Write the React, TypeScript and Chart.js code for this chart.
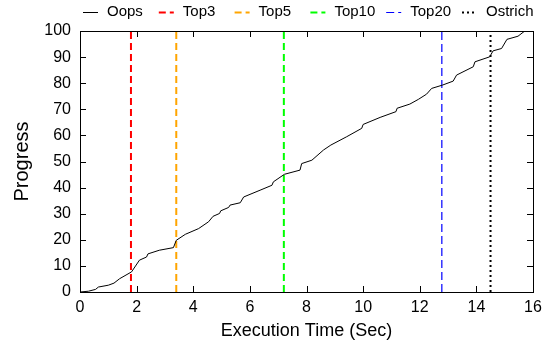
import React, { useEffect, useRef } from "react";
import { Chart, registerables } from "chart.js";

Chart.register(...registerables);

// Oops progress curve
const oopsTime = [0, 0.3, 0.55, 0.65, 1.0, 1.2, 1.4, 1.82, 2.1, 2.35, 2.4, 2.8, 3.3, 3.4, 3.72, 4.19, 4.54, 4.7, 4.93, 4.97, 5.25, 5.3, 5.66, 5.78, 6.36, 6.78, 6.83, 7.22, 7.77, 7.83, 8.19, 8.6, 8.86, 9.42, 9.95, 10.0, 10.6, 11.16, 11.2, 11.65, 11.95, 12.24, 12.42, 12.81, 13.18, 13.3, 13.89, 13.95, 14.47, 14.59, 14.89, 15.08, 15.47, 15.71];
const oopsProgress = [0, 0.3, 1.0, 1.9, 2.6, 3.4, 5.1, 7.7, 12.2, 13.4, 14.6, 16.0, 17.0, 19.8, 22.1, 24.3, 26.9, 29.0, 30.1, 31.1, 32.4, 33.3, 34.2, 36.4, 39.0, 40.9, 42.2, 45.1, 46.7, 49.2, 50.5, 54.4, 56.3, 59.5, 62.7, 64.2, 66.9, 69.1, 70.4, 72.0, 73.8, 75.8, 78.0, 79.3, 80.8, 83.1, 86.3, 88.2, 90.1, 92.4, 93.3, 96.8, 98.0, 100];

// Vertical completion markers
const markerLabels = ["Top3", "Top5", "Top10", "Top20", "Ostrich"];
const markerTimes = [1.8, 3.4, 7.2, 12.78, 14.5];
const markerColors = ["#ff0000", "#ffa500", "#00ff00", "#0000ff", "#000000"];
const markerDashes = [[7, 4], [7, 4], [7, 4], [8, 4], [2, 3]];
const markerWidths = [2, 2, 2, 1.2, 2];

const progressRange = [0, 100];
const timeRange = [0, 16];

const FONT = "'Liberation Sans', Arial, Helvetica, sans-serif";

export default function App() {
  const ref = useRef<HTMLCanvasElement | null>(null);

  useEffect(() => {
    const canvas = ref.current;
    if (!canvas) return;

    const datasets: any[] = [
      {
        label: "Oops",
        data: oopsTime.map((t, i) => ({ x: t, y: oopsProgress[i] })),
        borderColor: "#000000",
        borderWidth: 1,
        pointRadius: 0,
        borderDash: [],
        tension: 0,
      },
      ...markerLabels.map((lab, i) => ({
        label: lab,
        data: [
          { x: markerTimes[i], y: progressRange[0] },
          { x: markerTimes[i], y: progressRange[1] },
        ],
        borderColor: markerColors[i],
        borderWidth: markerWidths[i],
        borderDash: markerDashes[i],
        pointRadius: 0,
      })),
    ];

    const frame = {
      id: "frame",
      afterDatasetsDraw(chart: any) {
        const { ctx, chartArea: a, scales } = chart;
        ctx.save();
        ctx.strokeStyle = "#000";
        ctx.lineWidth = 1;
        ctx.setLineDash([]);
        ctx.strokeRect(Math.round(a.left) + 0.5, Math.round(a.top) + 0.5, Math.round(a.right - a.left), Math.round(a.bottom - a.top));
        const tl = 6;
        ctx.beginPath();
        scales.x.ticks.forEach((t: any) => {
          const px = Math.round(scales.x.getPixelForValue(t.value)) + 0.5;
          ctx.moveTo(px, a.bottom);
          ctx.lineTo(px, a.bottom - tl);
          ctx.moveTo(px, a.top);
          ctx.lineTo(px, a.top + tl);
        });
        scales.y.ticks.forEach((t: any) => {
          const py = Math.round(scales.y.getPixelForValue(t.value)) + 0.5;
          ctx.moveTo(a.left, py);
          ctx.lineTo(a.left + tl, py);
          ctx.moveTo(a.right, py);
          ctx.lineTo(a.right - tl, py);
        });
        ctx.stroke();
        ctx.restore();
      },
      afterDraw(chart: any) {
        const { ctx } = chart;
        ctx.save();
        ctx.font = `15px ${FONT}`;
        ctx.textBaseline = "middle";
        ctx.fillStyle = "#000";
        const y = 12;
        chart.data.datasets.forEach((ds: any, i: number) => {
          const x0 = 83 + i * 75.8;
          ctx.strokeStyle = ds.borderColor;
          ctx.lineWidth = ds.borderWidth;
          ctx.setLineDash(ds.borderDash || []);
          ctx.beginPath();
          ctx.moveTo(x0, y + 0.5);
          ctx.lineTo(x0 + 15, y + 0.5);
          ctx.stroke();
          ctx.setLineDash([]);
          ctx.fillText(ds.label, x0 + 24, y);
        });
        ctx.restore();
      },
    };

    const chart = new Chart(canvas, {
      type: "line",
      data: { datasets },
      options: {
        animation: false,
        responsive: false,
        devicePixelRatio: 1,
        layout: { padding: { top: 31, right: 23, left: 0, bottom: 0 } },
        plugins: { legend: { display: false }, tooltip: { enabled: false } },
        scales: {
          x: {
            type: "linear",
            min: timeRange[0],
            max: timeRange[1],
            grid: { display: false, drawTicks: false },
            border: { display: false },
            ticks: { stepSize: 2, color: "#000", font: { size: 16, family: FONT }, padding: 6, maxRotation: 0 },
            title: { display: true, text: "Execution Time (Sec)", color: "#000", font: { size: 18, family: FONT }, padding: { top: 0, bottom: 4 } },
            afterFit: (s: any) => { s.height = 54; },
          },
          y: {
            type: "linear",
            min: progressRange[0],
            max: progressRange[1],
            grid: { display: false, drawTicks: false },
            border: { display: false },
            ticks: { stepSize: 10, color: "#000", font: { size: 16, family: FONT }, padding: 9 },
            title: { display: true, text: "Progress", color: "#000", font: { size: 20, family: FONT }, padding: { top: 10, bottom: 0 } },
            afterFit: (s: any) => { s.width = 80; },
          },
        },
      },
      plugins: [frame],
    } as any);

    return () => chart.destroy();
  }, []);

  return (
    <div style={{ position: "absolute", left: 0, top: 0, width: 556, height: 346, background: "#fff" }}>
      <canvas ref={ref} width={556} height={346} />
    </div>
  );
}
